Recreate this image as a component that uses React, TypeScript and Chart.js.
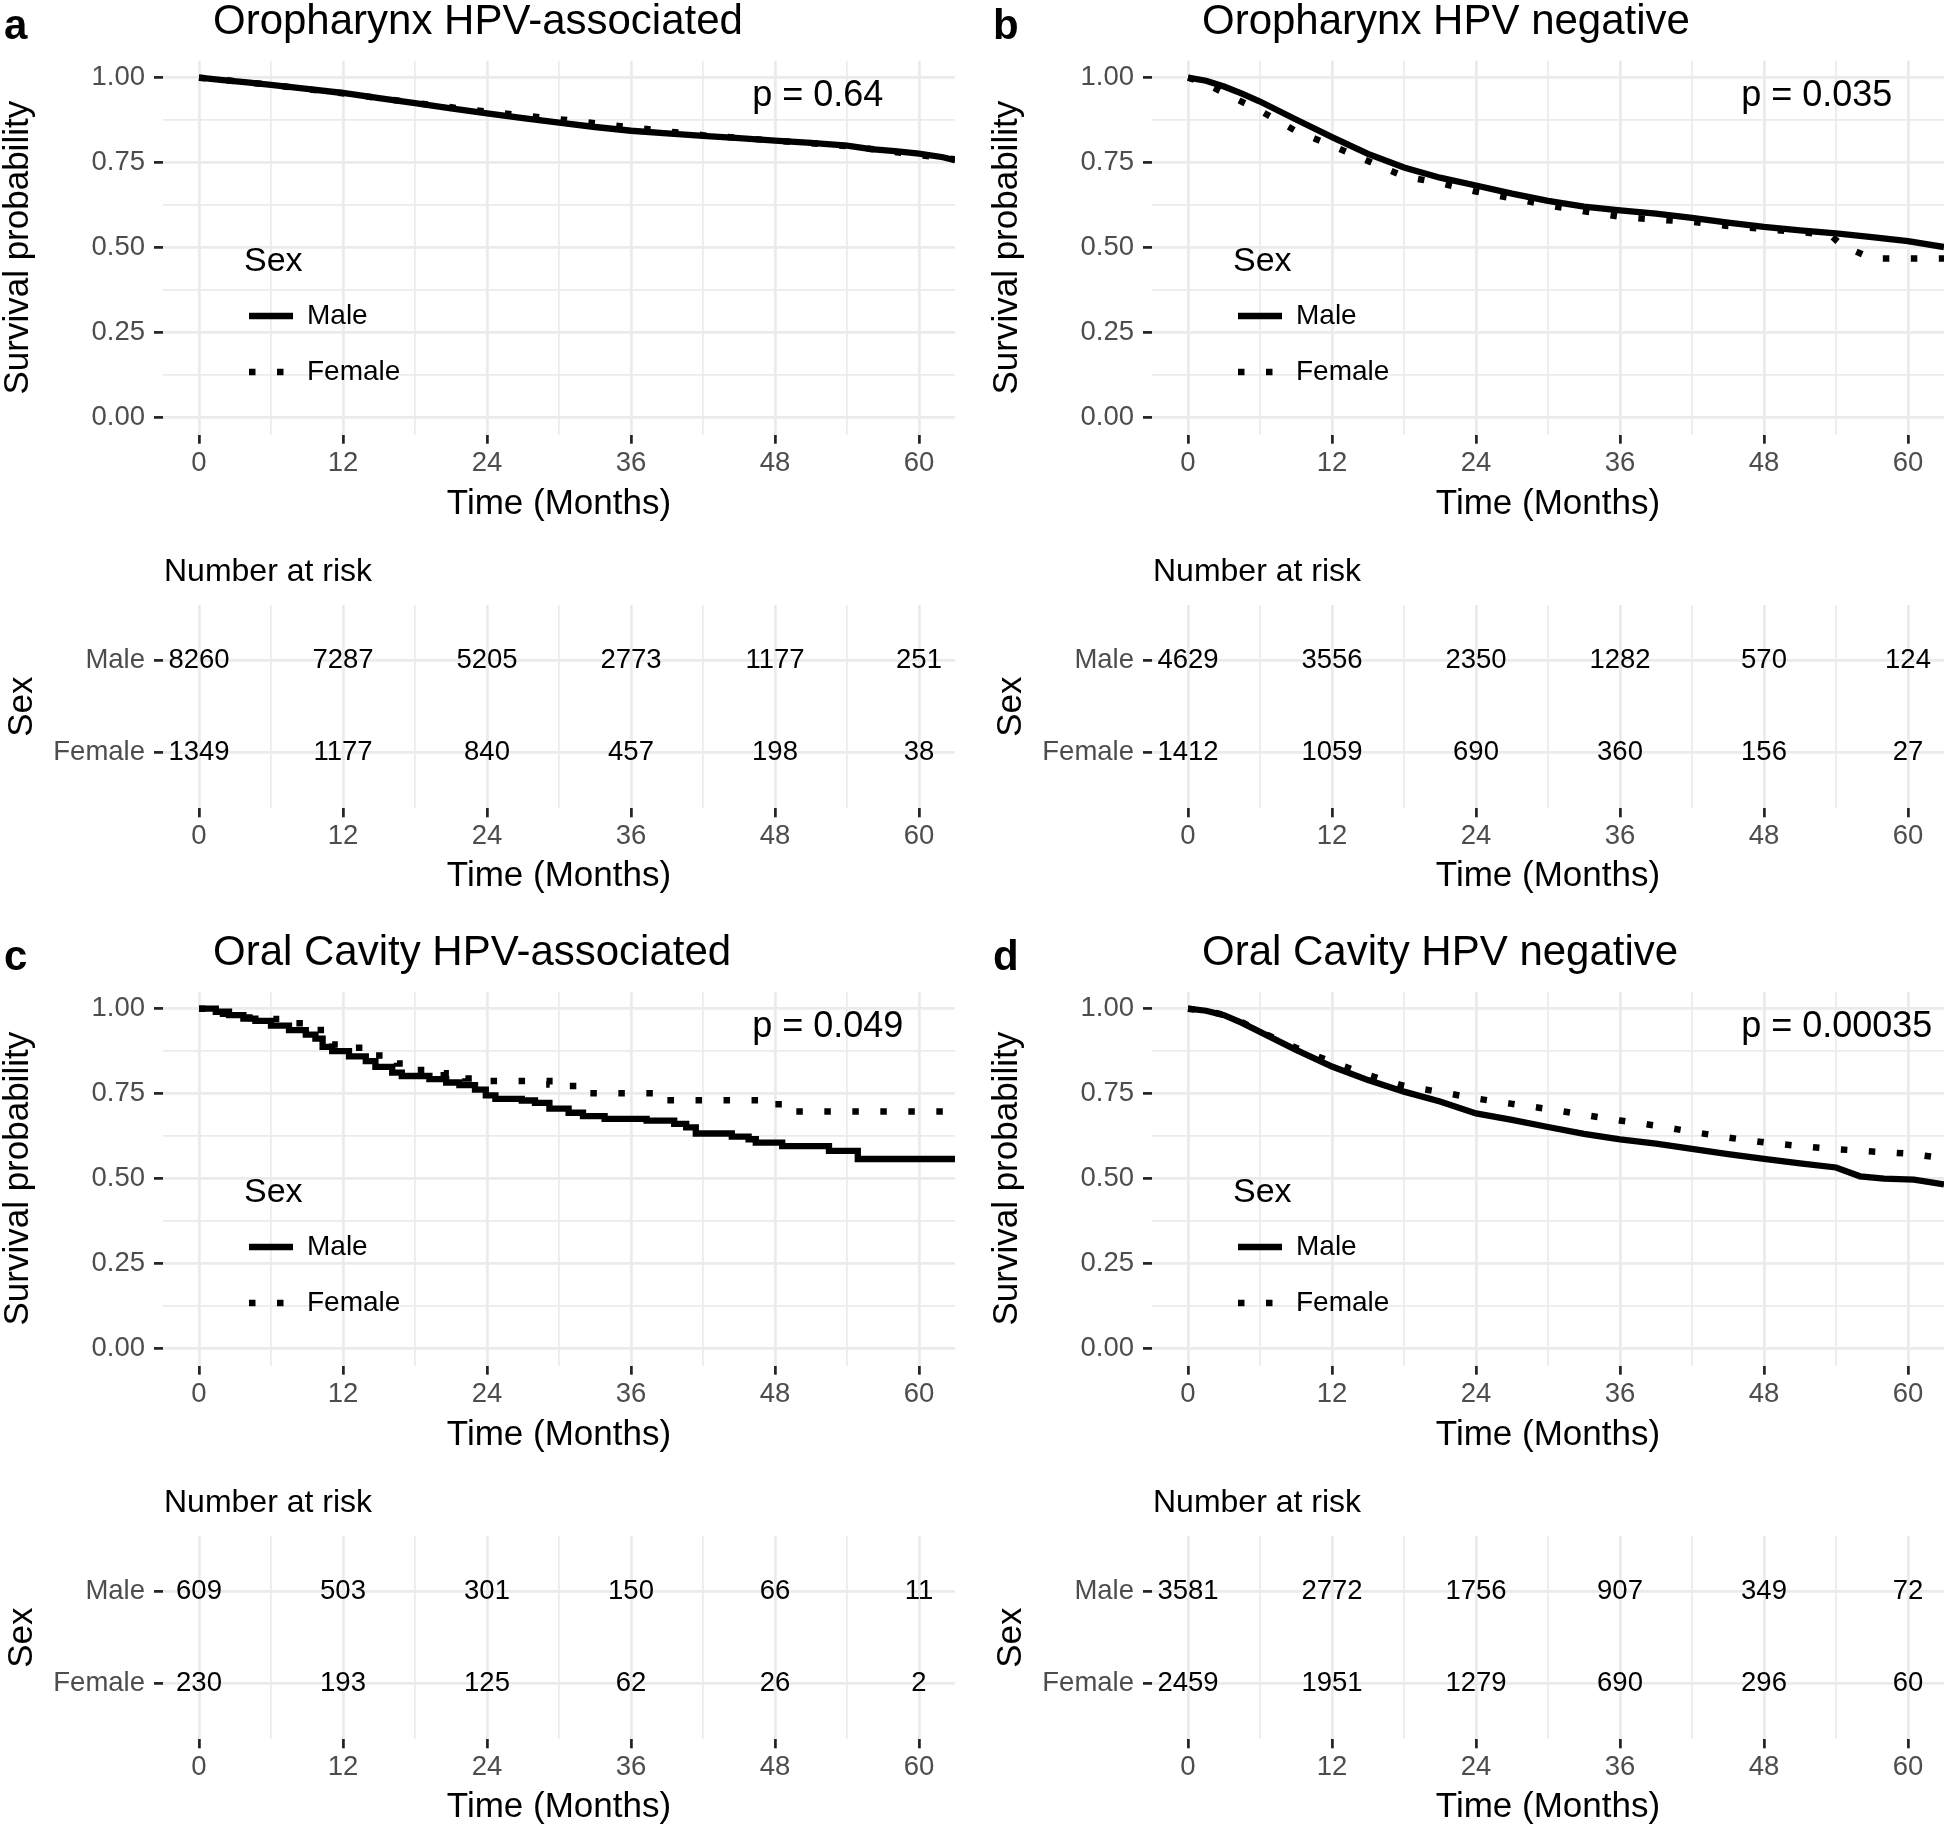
import React, { useEffect, useRef } from "react";
import { Chart, registerables } from "chart.js";

Chart.register(...registerables);

const FONT = '"Liberation Sans", Arial, Helvetica, sans-serif';

// ---------- shared axis values ----------
const TIME_TICKS = [0, 12, 24, 36, 48, 60];
const TIME_GRID = [0, 6, 12, 18, 24, 30, 36, 42, 48, 54, 60];
const SURV_TICKS = [0, 0.25, 0.5, 0.75, 1];
const SURV_GRID = [0, 0.125, 0.25, 0.375, 0.5, 0.625, 0.75, 0.875, 1];
const RISK_ROWS = ["Female", "Male"]; // y = 1, y = 2
const SERIES = ["Male", "Female"];

// ---------- panel a: Oropharynx HPV-associated ----------
const A_MALE_T = [0, 2, 4, 6, 9, 12, 15, 18, 21, 24, 27, 30, 33, 36, 39, 42, 45, 48, 51, 54, 56, 58, 60, 62, 63];
const A_MALE_S = [1, 0.993, 0.986, 0.979, 0.967, 0.955, 0.94, 0.925, 0.91, 0.895, 0.881, 0.868, 0.855, 0.844, 0.836, 0.829, 0.822, 0.815, 0.808, 0.8, 0.79, 0.784, 0.777, 0.766, 0.757];
const A_FEM_T = [0, 3, 6, 9, 12, 15, 18, 21, 24, 27, 30, 33, 36, 39, 42, 45, 48, 51, 54, 57, 60, 63];
const A_FEM_S = [1, 0.99, 0.979, 0.966, 0.954, 0.94, 0.926, 0.913, 0.9, 0.889, 0.878, 0.866, 0.854, 0.842, 0.831, 0.823, 0.815, 0.807, 0.799, 0.786, 0.772, 0.76];
const A_RISK_MALE = [8260, 7287, 5205, 2773, 1177, 251];
const A_RISK_FEM = [1349, 1177, 840, 457, 198, 38];

// ---------- panel b: Oropharynx HPV negative ----------
const B_MALE_T = [0, 1.5, 3, 4.5, 6, 9, 12, 15, 18, 21, 24, 27, 30, 33, 36, 39, 42, 45, 48, 51, 54, 57, 60, 63];
const B_MALE_S = [1, 0.991, 0.974, 0.953, 0.93, 0.877, 0.825, 0.776, 0.736, 0.706, 0.683, 0.659, 0.638, 0.621, 0.61, 0.6, 0.588, 0.574, 0.561, 0.551, 0.542, 0.531, 0.519, 0.502];
const B_FEM_T = [0, 1.5, 3, 6, 9, 12, 15, 18, 21, 24, 27, 30, 33, 36, 39, 42, 45, 48, 51, 53.5, 54.5, 57, 63];
const B_FEM_S = [1, 0.982, 0.955, 0.903, 0.843, 0.8, 0.755, 0.71, 0.69, 0.665, 0.645, 0.625, 0.607, 0.591, 0.583, 0.576, 0.564, 0.555, 0.546, 0.538, 0.507, 0.468, 0.468];
const B_RISK_MALE = [4629, 3556, 2350, 1282, 570, 124];
const B_RISK_FEM = [1412, 1059, 690, 360, 156, 27];

// ---------- panel c: Oral Cavity HPV-associated ----------
const C_MALE_T = [0, 1.4, 2.5, 3.7, 4.7, 6, 7.5, 8.9, 9.7, 10.3, 11.1, 12.5, 13.9, 14.7, 16.1, 16.9, 19.2, 20.6, 21.7, 23, 23.9, 24.7, 26.9, 28, 29.2, 30.8, 32, 33.8, 37.3, 39.6, 40.6, 41.4, 44.4, 45.8, 46.4, 48.6, 52.5, 54.9, 63];
const C_MALE_S = [1, 0.991, 0.981, 0.971, 0.964, 0.95, 0.937, 0.924, 0.912, 0.888, 0.875, 0.86, 0.846, 0.829, 0.812, 0.802, 0.793, 0.783, 0.775, 0.762, 0.745, 0.735, 0.73, 0.723, 0.706, 0.694, 0.684, 0.676, 0.671, 0.661, 0.651, 0.633, 0.624, 0.616, 0.606, 0.596, 0.582, 0.558, 0.558];
const C_FEM_T = [0, 2, 4.2, 6.2, 8, 9.7, 11.1, 12.9, 14.6, 16.5, 18.5, 20.4, 22.2, 24.2, 29.2, 30.4, 31.7, 39.3, 48.3, 63];
const C_FEM_S = [1, 0.985, 0.973, 0.97, 0.957, 0.937, 0.895, 0.885, 0.862, 0.839, 0.82, 0.81, 0.795, 0.787, 0.777, 0.773, 0.751, 0.731, 0.698, 0.698];
const C_RISK_MALE = [609, 503, 301, 150, 66, 11];
const C_RISK_FEM = [230, 193, 125, 62, 26, 2];

// ---------- panel d: Oral Cavity HPV negative ----------
const D_MALE_T = [0, 1.5, 3, 4.5, 6, 9, 12, 15, 18, 21, 24, 27, 30, 33, 36, 39, 42, 45, 48, 51, 54, 56, 58, 60.5, 63];
const D_MALE_S = [1, 0.994, 0.981, 0.958, 0.932, 0.879, 0.83, 0.79, 0.756, 0.727, 0.692, 0.673, 0.652, 0.632, 0.616, 0.603, 0.588, 0.572, 0.558, 0.545, 0.533, 0.507, 0.5, 0.497, 0.483];
const D_FEM_T = [0, 1.5, 3, 4.5, 6, 9, 12, 15, 18, 21, 24, 27, 30, 33, 36, 39, 42, 45, 48, 51, 54, 57, 60, 63];
const D_FEM_S = [1, 0.994, 0.982, 0.96, 0.933, 0.885, 0.843, 0.805, 0.773, 0.755, 0.736, 0.72, 0.705, 0.688, 0.671, 0.656, 0.638, 0.621, 0.607, 0.596, 0.587, 0.58, 0.574, 0.56];
const D_RISK_MALE = [3581, 2772, 1756, 907, 349, 72];
const D_RISK_FEM = [2459, 1951, 1279, 690, 296, 60];

// ---------- panels ----------
const PANELS = [
  { letter: "a", title: "Oropharynx HPV-associated", p: "p = 0.64", maleT: A_MALE_T, maleS: A_MALE_S, femT: A_FEM_T, femS: A_FEM_S, riskMale: A_RISK_MALE, riskFem: A_RISK_FEM, stepped: false },
  { letter: "b", title: "Oropharynx HPV negative", p: "p = 0.035", maleT: B_MALE_T, maleS: B_MALE_S, femT: B_FEM_T, femS: B_FEM_S, riskMale: B_RISK_MALE, riskFem: B_RISK_FEM, stepped: false },
  { letter: "c", title: "Oral Cavity HPV-associated", p: "p = 0.049", maleT: C_MALE_T, maleS: C_MALE_S, femT: C_FEM_T, femS: C_FEM_S, riskMale: C_RISK_MALE, riskFem: C_RISK_FEM, stepped: true },
  { letter: "d", title: "Oral Cavity HPV negative", p: "p = 0.00035", maleT: D_MALE_T, maleS: D_MALE_S, femT: D_FEM_T, femS: D_FEM_S, riskMale: D_RISK_MALE, riskFem: D_RISK_FEM, stepped: false },
];

// ---------- layout (pixels) ----------
const ORIGINS = [
  { x: 0, y: 0 },
  { x: 989, y: 0 },
  { x: 0, y: 931 },
  { x: 989, y: 931 },
];
const SUB_W = 957;
const KM_H = 540;
const TAB_H = 357;
const AREA_RIGHT = 955;
const AREA_LEFT = 163;
const KM_TOP = 60.7;
const KM_BOTTOM = 434.7;
const TAB_TOP = 65;
const TAB_BOTTOM = 268.3;
const P_POS = { x: 46.1, y: 0.946 };

const GRID_COLOR = "#ebebeb";
const TICK_COLOR = "#222222";
const LABEL_COLOR = "#4d4d4d";
const MAJOR_W = 2.8;
const MINOR_W = 1.7;
const MALE_W = 6.3;
const FEM_W = 6.5;
const FEM_DASH = [6.5, 21.5];

function xScale(height: number) {
  return {
    type: "linear" as const,
    min: -3,
    max: 63,
    afterBuildTicks: (s: any) => {
      s.ticks = TIME_GRID.map((v) => ({ value: v }));
    },
    afterFit: (s: any) => {
      s.height = height;
    },
    border: { display: false },
    grid: {
      color: GRID_COLOR,
      lineWidth: (c: any) => (TIME_TICKS.includes(c.tick?.value) ? MAJOR_W : MINOR_W),
      tickColor: (c: any) => (TIME_TICKS.includes(c.tick?.value) ? TICK_COLOR : "rgba(0,0,0,0)"),
      tickWidth: 2.7,
      tickLength: 9,
      drawTicks: true,
    },
    ticks: {
      autoSkip: false,
      maxRotation: 0,
      padding: 3,
      color: LABEL_COLOR,
      font: { family: FONT, size: 27.5 },
      callback: (v: any) => (TIME_TICKS.includes(v) ? String(v) : ""),
    },
  };
}

function KMChart({ idx }: { idx: number }) {
  const ref = useRef<HTMLCanvasElement>(null);
  const panel = PANELS[idx];
  const o = ORIGINS[idx];
  useEffect(() => {
    const decor = {
      id: "kmDecor",
      afterDraw(chart: any) {
        const ctx = chart.ctx as CanvasRenderingContext2D;
        const ca = chart.chartArea;
        const sx = chart.scales.x;
        const sy = chart.scales.y;
        ctx.save();
        ctx.fillStyle = "#000";
        ctx.textAlign = "left";
        ctx.textBaseline = "alphabetic";
        ctx.font = `bold 42px ${FONT}`;
        ctx.fillText(panel.letter, 4, 38.5);
        ctx.font = `42px ${FONT}`;
        ctx.fillText(panel.title, 213, 33.5);
        // p value
        ctx.font = `36px ${FONT}`;
        ctx.textBaseline = "middle";
        ctx.fillText(panel.p, sx.getPixelForValue(P_POS.x), sy.getPixelForValue(P_POS.y));
        // axis titles
        ctx.font = `35px ${FONT}`;
        ctx.textAlign = "center";
        ctx.fillText("Time (Months)", (ca.left + ca.right) / 2, 504);
        ctx.save();
        ctx.translate(28, (ca.top + ca.bottom) / 2);
        ctx.rotate(-Math.PI / 2);
        ctx.textBaseline = "alphabetic";
        ctx.fillText("Survival probability", 0, 0);
        ctx.restore();
        // legend
        ctx.textAlign = "left";
        ctx.textBaseline = "middle";
        ctx.font = `34px ${FONT}`;
        ctx.fillText("Sex", 244, 262);
        ctx.strokeStyle = "#000";
        ctx.lineCap = "butt";
        ctx.lineWidth = MALE_W;
        ctx.beginPath();
        ctx.moveTo(249, 316);
        ctx.lineTo(293, 316);
        ctx.stroke();
        ctx.lineWidth = FEM_W;
        ctx.setLineDash(FEM_DASH);
        ctx.beginPath();
        ctx.moveTo(249, 372);
        ctx.lineTo(293, 372);
        ctx.stroke();
        ctx.setLineDash([]);
        ctx.font = `28px ${FONT}`;
        ctx.fillText(SERIES[0], 307, 316);
        ctx.fillText(SERIES[1], 307, 372);
        ctx.restore();
      },
    };
    const chart = new Chart(ref.current!, {
      type: "line",
      data: {
        datasets: [
          {
            label: SERIES[0],
            data: panel.maleT.map((t, i) => ({ x: t, y: panel.maleS[i] })),
            borderColor: "#000",
            borderWidth: MALE_W,
            pointRadius: 0,
            stepped: panel.stepped ? true : false,
            fill: false,
            tension: 0,
            borderCapStyle: "butt",
          },
          {
            label: SERIES[1],
            data: panel.femT.map((t, i) => ({ x: t, y: panel.femS[i] })),
            borderColor: "#000",
            borderWidth: FEM_W,
            borderDash: FEM_DASH,
            pointRadius: 0,
            stepped: panel.stepped ? true : false,
            fill: false,
            tension: 0,
            borderCapStyle: "butt",
          },
        ],
      },
      options: {
        responsive: false,
        animation: false,
        devicePixelRatio: 1,
        layout: { padding: { top: KM_TOP, right: SUB_W - AREA_RIGHT, left: 0, bottom: 0 } },
        plugins: { legend: { display: false }, tooltip: { enabled: false }, title: { display: false } },
        scales: {
          x: xScale(KM_H - KM_BOTTOM) as any,
          y: {
            type: "linear",
            min: -0.05,
            max: 1.05,
            afterBuildTicks: (s: any) => {
              s.ticks = SURV_GRID.map((v) => ({ value: v }));
            },
            afterFit: (s: any) => {
              s.width = AREA_LEFT;
            },
            border: { display: false },
            grid: {
              color: GRID_COLOR,
              lineWidth: (c: any) => (SURV_TICKS.includes(c.tick?.value) ? MAJOR_W : MINOR_W),
              tickColor: (c: any) => (SURV_TICKS.includes(c.tick?.value) ? TICK_COLOR : "rgba(0,0,0,0)"),
              tickWidth: 2.7,
              tickLength: 9,
            },
            ticks: {
              autoSkip: false,
              padding: 9,
              color: LABEL_COLOR,
              font: { family: FONT, size: 27.5 },
              callback: (v: any) => (SURV_TICKS.includes(v) ? Number(v).toFixed(2) : ""),
            },
          },
        },
      },
      plugins: [decor],
    } as any);
    return () => chart.destroy();
  }, []);
  return (
    <canvas
      ref={ref}
      width={SUB_W}
      height={KM_H}
      style={{ position: "absolute", left: o.x, top: o.y, width: SUB_W, height: KM_H }}
    />
  );
}

function RiskTable({ idx }: { idx: number }) {
  const ref = useRef<HTMLCanvasElement>(null);
  const panel = PANELS[idx];
  const o = ORIGINS[idx];
  useEffect(() => {
    const values = [panel.riskMale, panel.riskFem];
    const decor = {
      id: "tabDecor",
      afterDraw(chart: any) {
        const ctx = chart.ctx as CanvasRenderingContext2D;
        const ca = chart.chartArea;
        ctx.save();
        ctx.fillStyle = "#000";
        // numbers at risk, placed on the dataset points
        ctx.font = `27.5px ${FONT}`;
        ctx.textAlign = "center";
        ctx.textBaseline = "middle";
        for (let i = 0; i < 2; i++) {
          const meta = chart.getDatasetMeta(i);
          meta.data.forEach((pt: any, j: number) => {
            ctx.fillText(String(values[i][j]), pt.x, pt.y);
          });
        }
        ctx.textAlign = "left";
        ctx.font = `32px ${FONT}`;
        ctx.fillText("Number at risk", 164, 32);
        ctx.textAlign = "center";
        ctx.font = `35px ${FONT}`;
        ctx.fillText("Time (Months)", (ca.left + ca.right) / 2, 336.3);
        ctx.save();
        ctx.translate(31.5, (ca.top + ca.bottom) / 2);
        ctx.rotate(-Math.PI / 2);
        ctx.textBaseline = "alphabetic";
        ctx.fillText("Sex", 0, 0);
        ctx.restore();
        ctx.restore();
      },
    };
    const chart = new Chart(ref.current!, {
      type: "scatter",
      data: {
        datasets: [
          { label: SERIES[0], data: TIME_TICKS.map((t) => ({ x: t, y: 2 })), pointRadius: 0 },
          { label: SERIES[1], data: TIME_TICKS.map((t) => ({ x: t, y: 1 })), pointRadius: 0 },
        ],
      },
      options: {
        responsive: false,
        animation: false,
        devicePixelRatio: 1,
        layout: { padding: { top: TAB_TOP, right: SUB_W - AREA_RIGHT, left: 0, bottom: 0 } },
        plugins: { legend: { display: false }, tooltip: { enabled: false }, title: { display: false } },
        scales: {
          x: xScale(TAB_H - TAB_BOTTOM) as any,
          y: {
            type: "linear",
            min: 0.4,
            max: 2.6,
            afterBuildTicks: (s: any) => {
              s.ticks = [{ value: 1 }, { value: 2 }];
            },
            afterFit: (s: any) => {
              s.width = AREA_LEFT;
            },
            border: { display: false },
            grid: {
              color: GRID_COLOR,
              lineWidth: MAJOR_W,
              tickColor: TICK_COLOR,
              tickWidth: 2.7,
              tickLength: 9,
            },
            ticks: {
              autoSkip: false,
              padding: 9,
              color: LABEL_COLOR,
              font: { family: FONT, size: 27.5 },
              callback: (v: any) => RISK_ROWS[Number(v) - 1] ?? "",
            },
          },
        },
      },
      plugins: [decor],
    } as any);
    return () => chart.destroy();
  }, []);
  return (
    <canvas
      ref={ref}
      width={SUB_W}
      height={TAB_H}
      style={{ position: "absolute", left: o.x, top: o.y + KM_H, width: SUB_W, height: TAB_H }}
    />
  );
}

export default function App() {
  return (
    <div
      style={{
        position: "absolute",
        left: 0,
        top: 0,
        width: 1946,
        height: 1828,
        background: "#ffffff",
        overflow: "hidden",
      }}
    >
      {PANELS.map((_, i) => (
        <React.Fragment key={i}>
          <KMChart idx={i} />
          <RiskTable idx={i} />
        </React.Fragment>
      ))}
    </div>
  );
}
